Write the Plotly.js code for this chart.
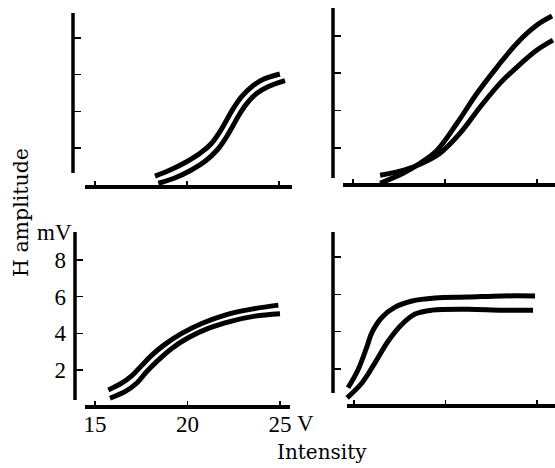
<!DOCTYPE html>
<html>
<head>
<meta charset="utf-8">
<script src="https://cdn.plot.ly/plotly-3.0.1.min.js"></script>
<style>html,body{margin:0;padding:0;background:#fff;}#chart{width:555px;height:468px;}</style>
</head>
<body>
<div id="chart"></div>
<script>
// ---- data ----
// top-left panel
const aUpX = [18.26, 19.08, 19.98, 20.71, 21.34, 21.79, 22.16, 22.52, 22.97, 23.52, 24.15, 25.05];
const aUpY = [0.47, 0.80, 1.25, 1.71, 2.26, 2.89, 3.53, 4.16, 4.80, 5.34, 5.74, 6.03];
const aLoX = [18.44, 19.30, 20.24, 21.0, 21.64, 22.10, 22.47, 22.83, 23.27, 23.80, 24.40, 25.33];
const aLoY = [0.08, 0.35, 0.80, 1.29, 1.89, 2.53, 3.16, 3.80, 4.44, 4.98, 5.34, 5.67];
// top-right panel
const bSX = [16.47, 17.72, 18.64, 19.57, 20.65, 21.74, 22.83, 23.91, 25.0, 25.82];
const bSY = [0.11, 0.64, 1.18, 1.88, 3.32, 4.93, 6.33, 7.61, 8.58, 9.06];
const bFX = [16.47, 17.72, 18.64, 19.73, 20.82, 21.9, 23.0, 23.91, 25.0, 25.87];
const bFY = [0.54, 0.80, 1.13, 1.72, 2.79, 4.18, 5.47, 6.33, 7.24, 7.77];
// bottom-left panel
const cUpX = [15.72, 16.44, 16.98, 17.52, 18.06, 18.78, 19.69, 20.77, 22.03, 23.47, 24.91];
const cUpY = [0.91, 1.28, 1.68, 2.24, 2.80, 3.40, 4.0, 4.54, 5.0, 5.32, 5.54];
const cLoX = [15.81, 16.62, 17.25, 17.79, 18.42, 19.15, 20.04, 21.12, 22.39, 23.65, 25.0];
const cLoY = [0.46, 0.82, 1.28, 1.91, 2.54, 3.18, 3.76, 4.27, 4.67, 4.94, 5.07];
// bottom-right panel
const dUpX = [14.67, 15.22, 15.71, 15.98, 16.53, 17.24, 18.17, 19.43, 21.23, 23.09, 24.89];
const dUpY = [0.99, 1.96, 3.21, 3.96, 4.77, 5.31, 5.64, 5.8, 5.85, 5.91, 5.91];
const dLoX = [14.62, 15.44, 16.15, 16.86, 17.62, 18.33, 19.26, 21.23, 23.09, 24.78];
const dLoY = [0.45, 1.26, 2.34, 3.48, 4.39, 4.94, 5.15, 5.2, 5.15, 5.15];

const xTicks = [15, 20, 25];
const xTickText = ['15', '20', '25'];
const yTicks = [2, 4, 6, 8];
const yTickText = ['2', '4', '6', '8'];

// ---- layout helpers ----
const W = 555, H = 468;
const px = v => v / W;
const py = v => 1 - v / H;
const TEXTFONT = 'DejaVu Serif, serif';
const NUMFONT = 'Liberation Serif, serif';

function curve(x, y, xa, ya) {
  return {x: x, y: y, xaxis: xa, yaxis: ya, type: 'scatter', mode: 'lines',
    line: {color: '#000', width: 5, shape: 'spline', smoothing: 1},
    hoverinfo: 'skip', showlegend: false};
}
const traces = [
  curve(aUpX, aUpY, 'x', 'y'), curve(aLoX, aLoY, 'x', 'y'),
  curve(bSX, bSY, 'x2', 'y2'), curve(bFX, bFY, 'x2', 'y2'),
  curve(cUpX, cUpY, 'x3', 'y3'), curve(cLoX, cLoY, 'x3', 'y3'),
  curve(dUpX, dUpY, 'x4', 'y4'), curve(dLoX, dLoY, 'x4', 'y4')
];

function xax(dom, range, anchor, labels) {
  return {domain: dom, range: range, anchor: anchor, showline: false, showgrid: false,
    zeroline: false, ticks: 'inside', ticklen: 6, tickwidth: 1.5, tickcolor: '#000',
    tickmode: 'array', tickvals: xTicks, ticktext: xTickText, showticklabels: labels,
    tickfont: {family: NUMFONT, size: 23, color: '#000'}, ticklabelstandoff: 1, fixedrange: true};
}
function yax(dom, range, anchor, labels) {
  return {domain: dom, range: range, anchor: anchor, showline: false, showgrid: false,
    zeroline: false, ticks: 'inside', ticklen: 8, tickwidth: 1.5, tickcolor: '#000',
    tickmode: 'array', tickvals: yTicks, ticktext: yTickText, showticklabels: labels,
    tickfont: {family: NUMFONT, size: 23, color: '#000'}, ticklabelstandoff: 8, fixedrange: true};
}
function seg(x0, y0, x1, y1, w) {
  return {type: 'line', xref: 'paper', yref: 'paper', x0: px(x0), y0: py(y0), x1: px(x1), y1: py(y1),
    line: {color: '#000', width: w}, layer: 'above'};
}

const layout = {
  width: W, height: H,
  margin: {l: 0, r: 0, t: 0, b: 0},
  paper_bgcolor: '#fff', plot_bgcolor: 'rgba(0,0,0,0)',
  font: {family: TEXTFONT, color: '#000'},
  showlegend: false,
  xaxis:  xax([px(73), px(292)], [13.80, 25.71], 'y', false),
  yaxis:  yax([py(187), py(5)], [-0.125, 9.79], 'x', false),
  xaxis2: xax([px(333), 1], [13.91, 25.98], 'y2', false),
  yaxis2: yax([py(185.3), py(3)], [0, 9.76], 'x2', false),
  xaxis3: xax([px(75), px(292)], [13.92, 25.65], 'y3', true),
  yaxis3: yax([py(407), py(225)], [-0.016, 9.91], 'x3', true),
  xaxis4: xax([px(333), 1], [13.85, 25.98], 'y4', false),
  yaxis4: yax([py(406), py(225)], [0.016, 9.71], 'x4', false),
  shapes: [
    // y axis lines
    seg(73, 13, 73, 173, 3.5), seg(333, 8, 333, 178, 3.5),
    seg(75, 232, 75, 400, 3.5), seg(333, 232, 333, 393, 3.5),
    // x axis lines
    seg(85, 187, 292, 187, 4), seg(343, 185, 555, 185, 4),
    seg(85, 407, 290, 407, 4), seg(347, 406, 555, 406, 4)
  ],
  annotations: [
    {text: 'mV', xref: 'paper', yref: 'paper', x: px(74), y: py(232), xanchor: 'right', yanchor: 'middle',
     showarrow: false, font: {family: NUMFONT, size: 23, color: '#000'}},
    {text: 'V', xref: 'paper', yref: 'paper', x: px(295), y: py(423), xanchor: 'left', yanchor: 'middle',
     showarrow: false, font: {family: NUMFONT, size: 23, color: '#000'}},
    {text: 'Intensity', xref: 'paper', yref: 'paper', x: px(322), y: py(452), xanchor: 'center', yanchor: 'middle',
     showarrow: false, font: {family: TEXTFONT, size: 20, color: '#000'}},
    {text: 'H amplitude', xref: 'paper', yref: 'paper', x: px(21), y: py(213), xanchor: 'center', yanchor: 'middle',
     textangle: -90, showarrow: false, font: {family: TEXTFONT, size: 20.5, color: '#000'}}
  ]
};

Plotly.newPlot('chart', traces, layout, {staticPlot: true, displayModeBar: false});
</script>
</body>
</html>
